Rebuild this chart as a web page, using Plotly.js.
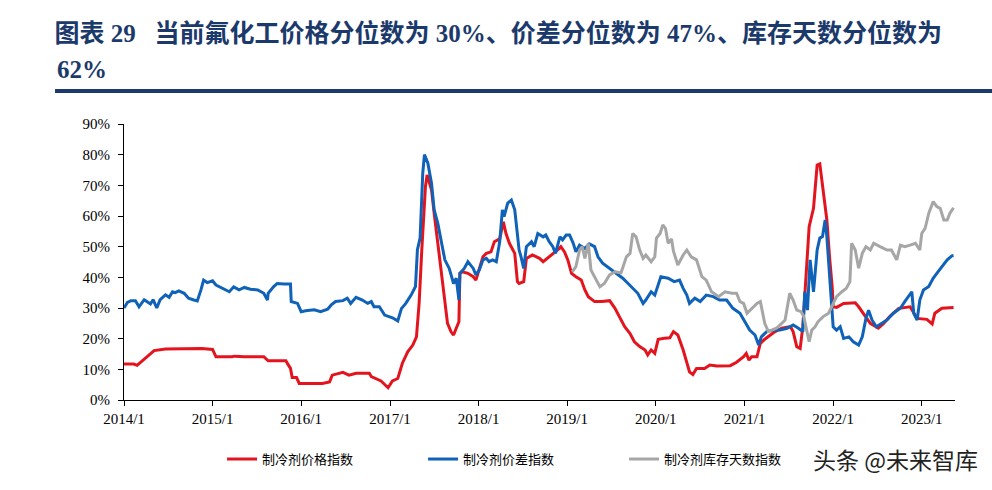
<!DOCTYPE html>
<html>
<head>
<meta charset="utf-8">
<script src="https://cdn.plot.ly/plotly-3.0.1.min.js"></script>
<style>
  html, body { margin: 0; padding: 0; background: #fff; }
  #chart { width: 992px; height: 490px; }
</style>
</head>
<body>
<div id="chart"></div>
<script>
// 时间以小数年表示（读图所得），绘图时转换为日期
const priceT = [2014.00, 2014.11, 2014.15, 2014.34, 2014.47, 2014.85, 2014.88, 2015.00, 2015.04, 2015.22,
    2015.25, 2015.36, 2015.58, 2015.63, 2015.83, 2015.85, 2015.88, 2015.90, 2015.95, 2015.98,
    2016.24, 2016.32, 2016.35, 2016.47, 2016.54, 2016.62, 2016.77, 2016.79, 2016.90, 2016.98,
    2017.03, 2017.09, 2017.14, 2017.20, 2017.26, 2017.30, 2017.33, 2017.36, 2017.40, 2017.42,
    2017.47, 2017.50, 2017.54, 2017.58, 2017.62, 2017.65, 2017.69, 2017.72, 2017.75, 2017.78,
    2017.79, 2017.82, 2017.88, 2017.94, 2017.97, 2018.01, 2018.05, 2018.09, 2018.14, 2018.18,
    2018.24, 2018.28, 2018.31, 2018.35, 2018.41, 2018.44, 2018.46, 2018.51, 2018.54, 2018.61,
    2018.69, 2018.73, 2018.78, 2018.84, 2018.90, 2018.93, 2018.97, 2019.01, 2019.05, 2019.10,
    2019.16, 2019.20, 2019.24, 2019.31, 2019.39, 2019.48, 2019.54, 2019.59, 2019.65, 2019.71,
    2019.76, 2019.82, 2019.88, 2019.91, 2019.95, 2019.99, 2020.03, 2020.10, 2020.16, 2020.20,
    2020.25, 2020.31, 2020.35, 2020.38, 2020.42, 2020.46, 2020.55, 2020.61, 2020.69, 2020.84,
    2020.91, 2020.99, 2021.02, 2021.05, 2021.08, 2021.14, 2021.18, 2021.23, 2021.33, 2021.42,
    2021.52, 2021.55, 2021.59, 2021.63, 2021.66, 2021.70, 2021.73, 2021.78, 2021.82, 2021.85,
    2021.88, 2021.91, 2021.93, 2021.96, 2021.99, 2022.00, 2022.04, 2022.12, 2022.25, 2022.29,
    2022.34, 2022.42, 2022.51, 2022.57, 2022.64, 2022.74, 2022.87, 2022.95, 2023.06, 2023.12,
    2023.15, 2023.23, 2023.36];
const priceIdx = [11.7, 11.7, 11.3, 16.1, 16.6, 16.6, 16.8, 16.5, 14.1, 14.1,
    14.3, 14.1, 14.1, 12.8, 12.8, 11.7, 10.3, 7.3, 7.3, 5.4,
    5.4, 5.9, 8.1, 9.0, 8.1, 8.7, 8.7, 7.6, 6.2, 4.0,
    6.2, 7.0, 12.0, 15.7, 17.9, 20.6, 31.5, 48.9, 69.6, 73.4,
    68.5, 60.9, 51.1, 40.2, 31.5, 25.0, 22.3, 21.2, 23.4, 25.5,
    41.3, 41.8, 41.3, 40.2, 39.1, 42.4, 46.7, 47.8, 48.3, 51.6,
    52.6, 58.1, 54.3, 51.1, 47.8, 38.6, 38.0, 38.6, 46.2, 47.3,
    46.2, 45.1, 46.2, 47.8, 49.1, 50.0, 48.3, 45.6, 41.3, 40.2,
    39.1, 35.9, 33.7, 32.1, 32.1, 32.4, 29.9, 27.2, 23.9, 21.7,
    19.0, 17.4, 16.3, 14.7, 16.3, 15.2, 19.8, 20.1, 20.3, 22.3,
    21.2, 16.3, 11.9, 9.2, 8.3, 10.3, 10.3, 11.4, 11.1, 11.2,
    12.3, 14.1, 15.2, 13.0, 14.1, 14.1, 18.5, 19.8, 22.0, 23.4,
    23.9, 22.3, 17.4, 16.8, 23.9, 42.4, 56.5, 62.5, 76.6, 77.0,
    69.6, 61.9, 58.7, 46.7, 36.9, 30.4, 30.2, 31.5, 31.7, 30.4,
    28.3, 25.0, 23.4, 25.0, 27.2, 29.9, 30.4, 26.6, 26.3, 24.8,
    28.3, 29.9, 30.2];

const spreadT = [2014.00, 2014.04, 2014.08, 2014.13, 2014.17, 2014.23, 2014.26, 2014.30, 2014.33, 2014.37,
    2014.41, 2014.47, 2014.51, 2014.55, 2014.58, 2014.62, 2014.68, 2014.73, 2014.79, 2014.83,
    2014.87, 2014.90, 2014.94, 2015.00, 2015.04, 2015.11, 2015.19, 2015.24, 2015.30, 2015.36,
    2015.43, 2015.51, 2015.58, 2015.62, 2015.63, 2015.69, 2015.73, 2015.81, 2015.88, 2015.89,
    2015.96, 2016.00, 2016.05, 2016.15, 2016.22, 2016.30, 2016.34, 2016.39, 2016.47, 2016.52,
    2016.56, 2016.62, 2016.69, 2016.75, 2016.79, 2016.82, 2016.88, 2016.94, 2016.98, 2017.03,
    2017.09, 2017.13, 2017.18, 2017.24, 2017.29, 2017.31, 2017.34, 2017.37, 2017.39, 2017.43,
    2017.47, 2017.50, 2017.54, 2017.58, 2017.62, 2017.67, 2017.72, 2017.75, 2017.78, 2017.79,
    2017.84, 2017.88, 2017.94, 2017.97, 2018.01, 2018.05, 2018.09, 2018.12, 2018.16, 2018.20,
    2018.24, 2018.27, 2018.29, 2018.33, 2018.37, 2018.41, 2018.43, 2018.46, 2018.48, 2018.51,
    2018.54, 2018.60, 2018.63, 2018.67, 2018.73, 2018.76, 2018.80, 2018.84, 2018.87, 2018.92,
    2018.95, 2018.99, 2019.03, 2019.07, 2019.10, 2019.14, 2019.20, 2019.25, 2019.31, 2019.35,
    2019.40, 2019.48, 2019.56, 2019.63, 2019.69, 2019.74, 2019.80, 2019.86, 2019.89, 2019.95,
    2019.99, 2020.06, 2020.14, 2020.21, 2020.27, 2020.31, 2020.35, 2020.38, 2020.44, 2020.50,
    2020.57, 2020.65, 2020.72, 2020.80, 2020.87, 2020.95, 2021.01, 2021.06, 2021.12, 2021.16,
    2021.19, 2021.25, 2021.33, 2021.40, 2021.48, 2021.55, 2021.61, 2021.66, 2021.68, 2021.71,
    2021.74, 2021.78, 2021.82, 2021.85, 2021.88, 2021.91, 2021.93, 2021.95, 2021.97, 2021.99,
    2022.00, 2022.04, 2022.08, 2022.12, 2022.18, 2022.23, 2022.29, 2022.33, 2022.37, 2022.40,
    2022.44, 2022.49, 2022.55, 2022.61, 2022.68, 2022.76, 2022.81, 2022.87, 2022.89, 2022.91,
    2022.95, 2022.98, 2023.02, 2023.08, 2023.13, 2023.17, 2023.23, 2023.29, 2023.34, 2023.36];
const spreadIdx = [30.0, 31.8, 32.4, 32.4, 30.4, 32.7, 32.1, 31.3, 32.7, 30.0,
    32.7, 34.3, 33.5, 35.3, 35.0, 35.6, 34.8, 33.2, 32.6, 32.3,
    35.9, 39.1, 38.3, 38.9, 37.5, 36.4, 35.3, 36.9, 35.9, 36.7,
    36.1, 35.9, 34.8, 32.6, 34.8, 36.9, 38.0, 37.8, 37.8, 32.1,
    31.5, 28.8, 29.1, 29.4, 28.8, 29.6, 31.0, 32.1, 32.4, 33.2,
    31.5, 33.5, 32.6, 31.5, 32.1, 30.4, 30.4, 27.7, 27.4, 26.8,
    25.8, 29.8, 31.5, 34.2, 37.0, 49.0, 52.8, 74.0, 80.0, 77.2,
    70.7, 62.0, 57.6, 52.2, 45.7, 42.9, 38.0, 39.7, 32.6, 41.3,
    42.9, 45.1, 42.9, 40.8, 42.4, 45.7, 46.2, 45.1, 45.7, 45.1,
    51.6, 62.0, 59.8, 64.2, 65.2, 62.0, 56.5, 48.9, 46.7, 42.9,
    50.0, 51.6, 50.0, 54.3, 53.2, 53.8, 51.6, 50.0, 47.8, 53.2,
    52.2, 53.8, 53.8, 51.1, 48.3, 50.5, 49.4, 50.9, 50.0, 46.7,
    44.6, 42.9, 41.3, 39.7, 38.0, 36.4, 34.8, 31.5, 32.6, 35.3,
    34.2, 40.2, 39.7, 38.6, 39.1, 36.4, 34.2, 31.5, 33.2, 32.1,
    34.2, 33.7, 32.6, 32.6, 29.9, 28.3, 25.5, 22.8, 21.2, 17.9,
    20.6, 22.3, 22.8, 22.8, 23.4, 24.5, 23.4, 22.3, 35.3, 29.3,
    45.7, 35.3, 48.9, 52.8, 53.3, 58.7, 53.3, 45.7, 38.0, 28.3,
    23.9, 22.8, 23.9, 20.1, 20.6, 19.0, 17.9, 20.6, 26.6, 29.3,
    26.1, 23.9, 25.0, 26.1, 28.3, 29.9, 32.1, 34.8, 35.3, 28.3,
    26.1, 32.6, 35.9, 37.0, 39.7, 41.3, 43.5, 45.7, 47.0, 47.1];

const stockT = [2019.06, 2019.10, 2019.14, 2019.17, 2019.20, 2019.24, 2019.27, 2019.31, 2019.37, 2019.42,
    2019.48, 2019.54, 2019.61, 2019.67, 2019.71, 2019.74, 2019.78, 2019.82, 2019.86, 2019.89,
    2019.95, 2019.99, 2020.01, 2020.05, 2020.08, 2020.11, 2020.14, 2020.18, 2020.20, 2020.25,
    2020.31, 2020.35, 2020.40, 2020.46, 2020.52, 2020.57, 2020.63, 2020.71, 2020.78, 2020.86,
    2020.91, 2020.95, 2020.99, 2021.03, 2021.08, 2021.14, 2021.18, 2021.23, 2021.27, 2021.31,
    2021.36, 2021.42, 2021.46, 2021.51, 2021.55, 2021.59, 2021.64, 2021.67, 2021.70, 2021.73,
    2021.76, 2021.80, 2021.83, 2021.89, 2021.95, 2021.99, 2022.04, 2022.10, 2022.15, 2022.19,
    2022.21, 2022.25, 2022.29, 2022.33, 2022.37, 2022.42, 2022.46, 2022.53, 2022.61, 2022.66,
    2022.72, 2022.76, 2022.81, 2022.87, 2022.93, 2022.98, 2023.00, 2023.04, 2023.08, 2023.13,
    2023.17, 2023.21, 2023.25, 2023.29, 2023.32, 2023.36];
const stockIdx = [41.8, 43.5, 48.9, 50.0, 46.2, 51.1, 42.4, 40.2, 36.9, 38.0,
    40.8, 41.8, 41.5, 46.7, 47.8, 54.3, 53.2, 48.9, 46.2, 47.3,
    45.1, 46.7, 52.8, 54.3, 57.1, 56.0, 51.1, 52.5, 48.5, 44.0,
    47.3, 48.9, 46.7, 45.7, 40.2, 39.1, 35.3, 33.7, 35.3, 34.8,
    34.8, 32.1, 31.5, 28.3, 29.9, 31.5, 32.1, 25.0, 22.3, 22.8,
    23.4, 25.0, 26.1, 34.8, 32.6, 29.3, 28.8, 27.2, 22.8, 19.0,
    22.8, 23.9, 25.5, 27.2, 28.3, 31.0, 33.7, 35.3, 36.4, 38.6,
    51.1, 48.9, 43.0, 47.8, 50.0, 48.9, 51.1, 50.0, 48.9, 48.9,
    45.7, 50.5, 50.0, 50.5, 51.1, 48.9, 54.3, 56.0, 60.9, 64.7,
    63.1, 62.5, 58.7, 58.7, 60.9, 62.7];

const xTickVals = ['2014-01-01', '2015-01-01', '2016-01-01', '2017-01-01', '2018-01-01',
    '2019-01-01', '2020-01-01', '2021-01-01', '2022-01-01', '2023-01-01'];
const xTickText = ['2014/1', '2015/1', '2016/1', '2017/1', '2018/1',
    '2019/1', '2020/1', '2021/1', '2022/1', '2023/1'];
const yTickVals = [0, 10, 20, 30, 40, 50, 60, 70, 80, 90];
const yTickText = ['0%', '10%', '20%', '30%', '40%', '50%', '60%', '70%', '80%', '90%'];

const seriesNames = ['制冷剂价格指数', '制冷剂价差指数', '制冷剂库存天数指数'];
const seriesColors = ['#E3141E', '#0F62B8', '#A6A6A6'];

// 小数年 -> 日期字符串
function yearToDate(t) {
    const y = Math.floor(t);
    const start = Date.UTC(y, 0, 1);
    const end = Date.UTC(y + 1, 0, 1);
    return new Date(start + (t - y) * (end - start)).toISOString().slice(0, 10);
}

const serifFont = 'Liberation Serif, "Times New Roman", serif';
const cjkFont = '"Liberation Serif", "Noto Sans CJK SC", sans-serif';
const navy = '#1B3A6B';

const traces = [
    [priceT, priceIdx],
    [spreadT, spreadIdx],
    [stockT, stockIdx]
].map(([t, v], i) => ({
    x: t.map(yearToDate),
    y: v,
    type: 'scatter',
    mode: 'lines',
    name: seriesNames[i],
    line: { color: seriesColors[i], width: 3 }
}));

const layout = {
    width: 992,
    height: 490,
    margin: { l: 124, r: 37, t: 124, b: 90 },
    paper_bgcolor: '#fff',
    plot_bgcolor: '#fff',
    showlegend: true,
    title: {
        text: '<b>图表 29   当前氟化工价格分位数为 30%、价差分位数为 47%、库存天数分位数为</b>',
        font: { family: cjkFont, size: 25, color: navy },
        xref: 'container', x: 0.055, xanchor: 'left',
        yref: 'container', y: 0.933, yanchor: 'middle'
    },
    annotations: [
        {
            text: '<b>62%</b>',
            xref: 'paper', yref: 'paper',
            x: -0.083, y: 1.196, xanchor: 'left', yanchor: 'middle',
            showarrow: false,
            font: { family: cjkFont, size: 25, color: navy }
        },
        {
            text: '头条 @未来智库',
            xref: 'paper', yref: 'paper',
            x: 0.928, y: -0.214, xanchor: 'center', yanchor: 'middle',
            showarrow: false,
            font: { family: '"Noto Sans CJK SC", sans-serif', size: 23, color: '#222' }
        }
    ],
    shapes: [
        {
            type: 'line', xref: 'paper', yref: 'paper',
            x0: -0.083, x1: 1.05, y0: 1.12, y1: 1.12,
            line: { color: navy, width: 4 }
        }
    ],
    xaxis: {
        type: 'date',
        range: ['2014-01-01', '2023-05-18'],
        tickvals: xTickVals,
        ticktext: xTickText,
        showgrid: false,
        zeroline: false,
        showline: true,
        linecolor: '#000',
        linewidth: 1,
        ticks: 'outside',
        ticklen: 5,
        tickcolor: '#000',
        tickfont: { family: serifFont, size: 15, color: '#000' }
    },
    yaxis: {
        range: [0, 90],
        tickvals: yTickVals,
        ticktext: yTickText,
        showgrid: false,
        zeroline: false,
        showline: true,
        linecolor: '#000',
        linewidth: 1,
        ticks: 'outside',
        ticklen: 5,
        tickcolor: '#000',
        ticklabelstandoff: 5,
        tickfont: { family: serifFont, size: 15, color: '#000' }
    },
    legend: {
        orientation: 'h',
        x: 0.118, xanchor: 'left',
        y: -0.214, yanchor: 'middle',
        entrywidth: 156,
        entrywidthmode: 'pixels',
        font: { family: '"Noto Sans CJK SC", sans-serif', size: 13, color: '#000' }
    }
};

Plotly.newPlot('chart', traces, layout, { displayModeBar: false, responsive: false });
</script>
</body>
</html>
